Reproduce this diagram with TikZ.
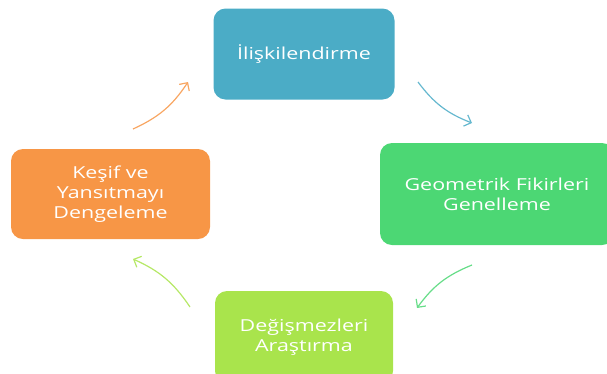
\documentclass[tikz,border=0pt]{standalone}
\usepackage{fontspec}
\setmainfont{Open Sans}[FakeStretch=1.3]
\usetikzlibrary{arrows.meta}
\definecolor{cAqua}{HTML}{4BACC6}
\definecolor{cGreen}{HTML}{4CD774}
\definecolor{cLime}{HTML}{A9E44C}
\definecolor{cOrange}{HTML}{F79646}
\tikzset{
  stagebox/.style={draw=none, rounded corners=12pt, inner sep=0pt, align=center,
    text=white, font=\fontsize{16.5}{20}\selectfont},
  cyclearrow/.style={line width=1.2pt, -{Straight Barb[length=6pt,width=12pt]}}
}
\begin{document}
\begin{tikzpicture}[x=1pt, y=-1pt]
  \useasboundingbox (0,0) rectangle (607,373);
  \clip (0,0) rectangle (607,373);
  % the four stages of the cycle
  \node[stagebox, fill=cAqua, minimum width=181pt, minimum height=91pt] (top) at (304,54) {İlişkilendirme};
  \node[stagebox, fill=cGreen, minimum width=234pt, minimum height=102pt] (right) at (497,194) {Geometrik Fikirleri\\Genelleme};
  \node[stagebox, fill=cLime, minimum width=178pt, minimum height=92pt] (bottom) at (304,337) {Değişmezleri\\Araştırma};
  \node[stagebox, fill=cOrange, minimum width=199pt, minimum height=90pt] (left) at (110.5,194) {Keşif ve\\Yansıtmayı\\Dengeleme};
  % arrow ends between the stages
  \coordinate (a1) at (418,82);  \coordinate (b1) at (472,123);
  \coordinate (a2) at (472,265); \coordinate (b2) at (417,308);
  \coordinate (a3) at (190,307); \coordinate (b3) at (133,259);
  \coordinate (a4) at (133,129); \coordinate (b4) at (188,82);
  \draw[cyclearrow, draw=cAqua!85] (a1) to[bend right=16] (b1);
  \draw[cyclearrow, draw=cGreen!85] (a2) to[bend right=16] (b2);
  \draw[cyclearrow, draw=cLime!85] (a3) to[bend right=16] (b3);
  \draw[cyclearrow, draw=cOrange!85] (a4) to[bend right=16] (b4);
\end{tikzpicture}
\end{document}
